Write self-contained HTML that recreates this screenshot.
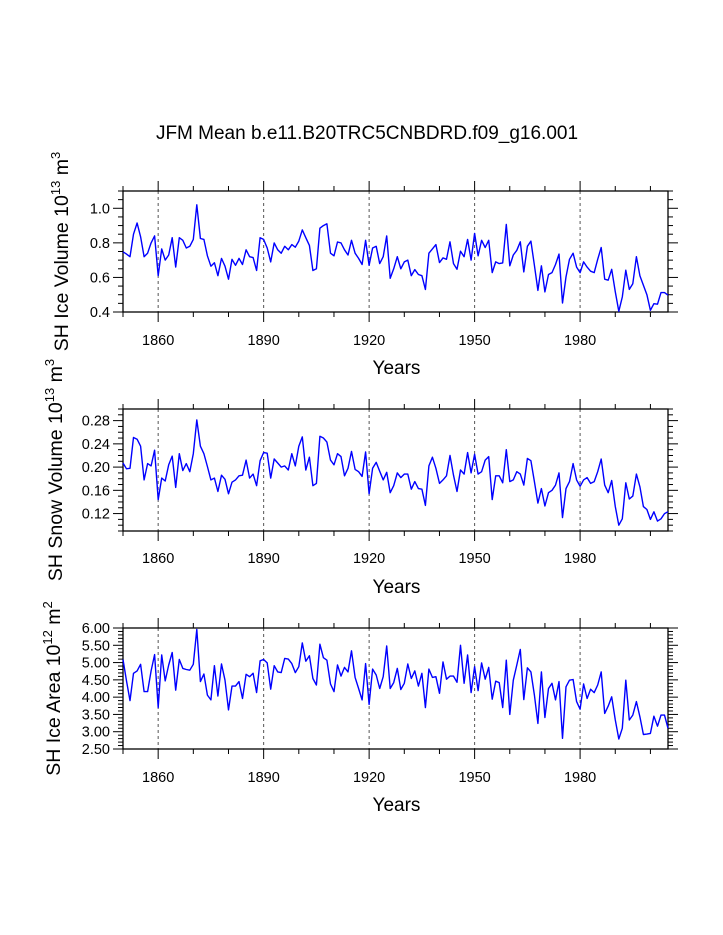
<!DOCTYPE html>
<html><head><meta charset="utf-8"><style>
body{margin:0;background:#fff}
svg{display:block;font-family:"Liberation Sans",Arial,sans-serif}
</style></head><body>
<svg id="chart" width="723" height="935" viewBox="0 0 723 935" xmlns="http://www.w3.org/2000/svg">
<text x="367" y="139" font-size="19" text-anchor="middle">JFM Mean b.e11.B20TRC5CNBDRD.f09_g16.001</text>
</svg>
<script>
const startYear = 1850;
const iceVolume = [0.748,0.735,0.72,0.85,0.915,0.835,0.72,0.74,0.80,0.84,0.61,0.765,0.70,0.73,0.83,0.66,0.83,0.815,0.77,0.78,0.82,1.02,0.825,0.82,0.725,0.665,0.685,0.61,0.71,0.665,0.59,0.705,0.67,0.71,0.675,0.76,0.72,0.715,0.64,0.83,0.82,0.77,0.69,0.80,0.76,0.74,0.78,0.76,0.79,0.775,0.81,0.875,0.83,0.785,0.64,0.65,0.885,0.90,0.91,0.74,0.725,0.805,0.80,0.76,0.73,0.815,0.74,0.71,0.675,0.815,0.67,0.77,0.78,0.68,0.72,0.84,0.595,0.65,0.72,0.65,0.69,0.70,0.61,0.645,0.617,0.61,0.53,0.74,0.765,0.79,0.686,0.713,0.705,0.806,0.68,0.647,0.752,0.72,0.82,0.70,0.855,0.725,0.815,0.773,0.815,0.628,0.69,0.68,0.684,0.906,0.667,0.73,0.757,0.806,0.632,0.78,0.81,0.67,0.525,0.667,0.516,0.617,0.628,0.675,0.735,0.452,0.603,0.705,0.74,0.66,0.628,0.69,0.66,0.636,0.628,0.705,0.773,0.59,0.584,0.647,0.516,0.404,0.487,0.642,0.531,0.564,0.72,0.61,0.555,0.50,0.41,0.448,0.445,0.512,0.512,0.497];
const snowVolume = [0.207,0.197,0.198,0.251,0.248,0.236,0.178,0.206,0.202,0.229,0.144,0.181,0.176,0.204,0.219,0.165,0.223,0.194,0.206,0.192,0.223,0.281,0.236,0.223,0.201,0.178,0.181,0.158,0.186,0.179,0.154,0.174,0.178,0.185,0.186,0.212,0.181,0.188,0.168,0.211,0.225,0.224,0.181,0.214,0.207,0.200,0.202,0.195,0.223,0.202,0.236,0.252,0.195,0.217,0.168,0.172,0.253,0.250,0.243,0.212,0.204,0.223,0.218,0.185,0.198,0.227,0.196,0.192,0.184,0.226,0.154,0.198,0.208,0.193,0.178,0.191,0.156,0.168,0.190,0.182,0.188,0.188,0.162,0.175,0.163,0.162,0.134,0.202,0.217,0.198,0.172,0.178,0.185,0.220,0.186,0.158,0.195,0.188,0.225,0.190,0.222,0.188,0.192,0.212,0.218,0.144,0.185,0.185,0.173,0.230,0.175,0.178,0.192,0.188,0.169,0.215,0.211,0.175,0.138,0.163,0.133,0.156,0.160,0.169,0.190,0.113,0.163,0.175,0.206,0.178,0.167,0.178,0.182,0.172,0.175,0.192,0.214,0.169,0.156,0.177,0.132,0.100,0.111,0.173,0.145,0.150,0.188,0.166,0.132,0.127,0.110,0.123,0.107,0.111,0.120,0.123];
const iceArea = [5.09,4.47,3.90,4.69,4.76,4.95,4.16,4.16,4.76,5.23,3.70,5.22,4.47,4.93,5.29,4.20,5.09,4.83,4.80,4.78,4.95,5.96,4.45,4.67,4.06,3.92,4.91,4.03,4.96,4.49,3.63,4.32,4.32,4.45,3.96,4.66,4.59,4.69,4.13,5.05,5.09,4.99,4.23,4.91,4.73,4.71,5.12,5.10,4.97,4.71,4.88,5.57,5.04,5.20,4.54,4.35,5.53,5.14,5.07,4.38,4.16,4.93,4.61,4.86,4.73,5.34,4.57,4.25,3.92,4.97,3.79,4.81,4.64,4.25,4.59,5.48,4.25,4.42,4.83,4.22,4.40,4.96,4.54,4.76,4.32,4.69,3.70,4.81,4.57,4.59,4.11,5.02,4.52,4.61,4.61,4.43,5.50,4.40,5.22,4.13,4.88,4.19,4.99,4.52,4.86,3.94,4.46,4.42,3.70,5.07,3.50,4.49,4.93,5.38,3.93,4.85,4.73,4.06,3.24,4.73,3.41,4.25,4.40,3.92,4.45,2.81,4.30,4.49,4.51,3.87,3.65,4.38,3.96,4.23,4.13,4.35,4.73,3.53,3.74,4.01,3.34,2.79,3.10,4.49,3.34,3.48,3.87,3.43,2.92,2.93,2.95,3.45,3.16,3.48,3.48,3.10];
const xMajorTicks = [1860,1890,1920,1950,1980];
const yTicks1 = [0.4,0.6,0.8,1.0];
const yTicks2 = [0.12,0.16,0.20,0.24,0.28];
const yTicks3 = [2.5,3.0,3.5,4.0,4.5,5.0,5.5,6.0];

const NS='http://www.w3.org/2000/svg';
const svg=document.getElementById('chart');
function mk(tag,attrs,parent){const e=document.createElementNS(NS,tag);for(const k in attrs)e.setAttribute(k,attrs[k]);(parent||svg).appendChild(e);return e;}

const X0=123,X1=668,XMIN=1850,XMAX=2005;
function xs(yr){return X0+(yr-XMIN)/(XMAX-XMIN)*(X1-X0);}

const panels=[
 {key:'ice-volume',data:iceVolume,top:191,bot:312,ymin:0.4,ymax:1.1,ticks:yTicks1,minor:0.05,dec:1,title:['SH Ice Volume 10','13',' m','3'],tx:68,labY:345,yearsY:374},
 {key:'snow-volume',data:snowVolume,top:409,bot:531,ymin:0.09,ymax:0.30,ticks:yTicks2,minor:0.01,dec:2,title:['SH Snow Volume 10','13',' m','3'],tx:62,labY:563,yearsY:593},
 {key:'ice-area',data:iceArea,top:628,bot:749,ymin:2.5,ymax:6.0,ticks:yTicks3,minor:0.1,dec:2,title:['SH Ice Area 10','12',' m','2'],tx:60,labY:782,yearsY:811}
];

panels.forEach(p=>{
 const g=mk('g',{});
 
 
 const ys=v=>p.bot-(v-p.ymin)/(p.ymax-p.ymin)*(p.bot-p.top);
 xMajorTicks.forEach(yr=>{
  const l=mk('line',{x1:xs(yr),x2:xs(yr),y1:p.top,y2:p.bot,stroke:'#555','stroke-width':1,'stroke-dasharray':'3,3'},g);
  
  
 });
 for(let yr=1850;yr<=2005;yr+=10){
  const major=xMajorTicks.includes(yr);const len=major?10:5;
  mk('line',{x1:xs(yr),x2:xs(yr),y1:p.bot,y2:p.bot+len,stroke:'#000','stroke-width':1},g);
  mk('line',{x1:xs(yr),x2:xs(yr),y1:p.top,y2:p.top-len,stroke:'#000','stroke-width':1},g);
 }
 xMajorTicks.forEach(yr=>{
  const t=mk('text',{x:xs(yr),y:p.labY,'font-size':14.5,'text-anchor':'middle'},g);
  t.textContent=yr;
  
  
 });
 const nMin=Math.round((p.ymax-p.ymin)/p.minor);
 for(let i=0;i<=nMin;i++){
  const v=p.ymin+i*p.minor;const y=ys(v);
  const major=p.ticks.some(t=>Math.abs(t-v)<1e-6);const len=major?10:5;
  mk('line',{x1:X0-len,x2:X0,y1:y,y2:y,stroke:'#000','stroke-width':1},g);
  mk('line',{x1:X1,x2:X1+len,y1:y,y2:y,stroke:'#000','stroke-width':1},g);
 }
 p.ticks.forEach(v=>{
  const t=mk('text',{x:X0-13,y:ys(v)+5,'font-size':14.5,'text-anchor':'end'},g);
  t.textContent=v.toFixed(p.dec);
  
  
 });
 const fr=mk('rect',{x:X0,y:p.top,width:X1-X0,height:p.bot-p.top,fill:'none',stroke:'#000','stroke-width':1.3},g);
 
 
 const pts=p.data.map((v,i)=>xs(startYear+i).toFixed(1)+','+ys(v).toFixed(1)).join(' ');
 const pl=mk('polyline',{points:pts,fill:'none',stroke:'#0000ff','stroke-width':1.4,'stroke-linejoin':'round'},g);
 
 
 const xt=mk('text',{x:(X0+X1)/2+1,y:p.yearsY,'font-size':19,'text-anchor':'middle'},g);
 xt.textContent='Years';
 
 
 const cy=(p.top+p.bot)/2;
 const yt=mk('text',{x:0,y:0,'font-size':19.5,'text-anchor':'middle',transform:'translate('+p.tx+','+cy+') rotate(-90)'},g);
 
 
 const a=mk('tspan',{},yt);a.textContent=p.title[0];
 const b=mk('tspan',{dy:-8,'font-size':13},yt);b.textContent=p.title[1];
 const c=mk('tspan',{dy:8},yt);c.textContent=p.title[2];
 const d=mk('tspan',{dy:-8,'font-size':13},yt);d.textContent=p.title[3];
});
</script>
</body></html>
